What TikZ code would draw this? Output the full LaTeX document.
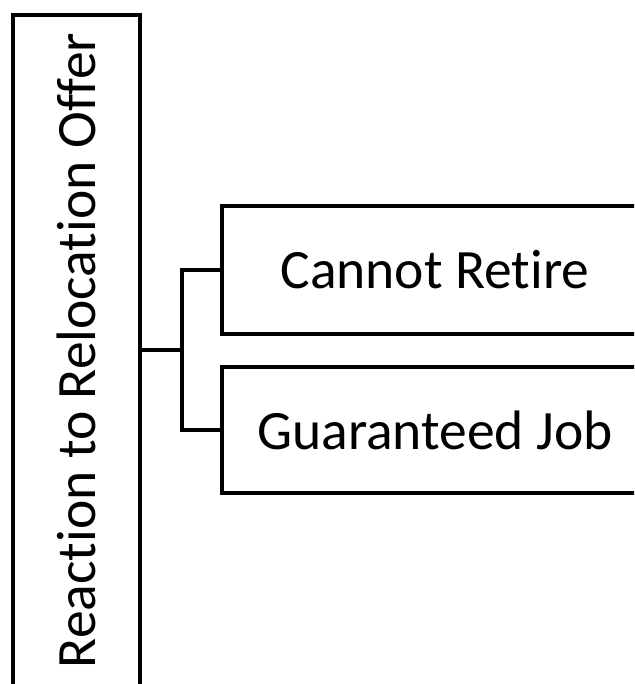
\documentclass[tikz,border=0pt]{standalone}
\usepackage{fontspec}
\setmainfont{Carlito}[RawFeature=-liga]
\usepackage{tikz}

\tikzset{
  box/.style={draw, line width=3.4pt, inner sep=0pt, align=center,
    font=\fontsize{39.5pt}{47pt}\selectfont},
  link/.style={line width=3.4pt}
}

\begin{document}
\begin{tikzpicture}[x=0.025cm,y=-0.025cm]

\useasboundingbox (0,0) rectangle (634,684);
\clip (0,0) rectangle (634,684);

\node[box, rotate=90, minimum width=671*0.025cm, minimum height=127*0.025cm] (root) at (76.5,350.5) {Reaction to Relocation Offer};

\node[box, minimum width=426*0.025cm, minimum height=128*0.025cm] (retire) at (435,270) {Cannot Retire};
\node[box, minimum width=426*0.025cm, minimum height=126*0.025cm] (job) at (435,430) {Guaranteed Job};

\coordinate (fork) at (182,350);

\draw[link] (root.south |- fork) -- (fork);
\draw[link] (fork) |- (retire.west);
\draw[link] (fork) |- (job.west);

\end{tikzpicture}
\end{document}
